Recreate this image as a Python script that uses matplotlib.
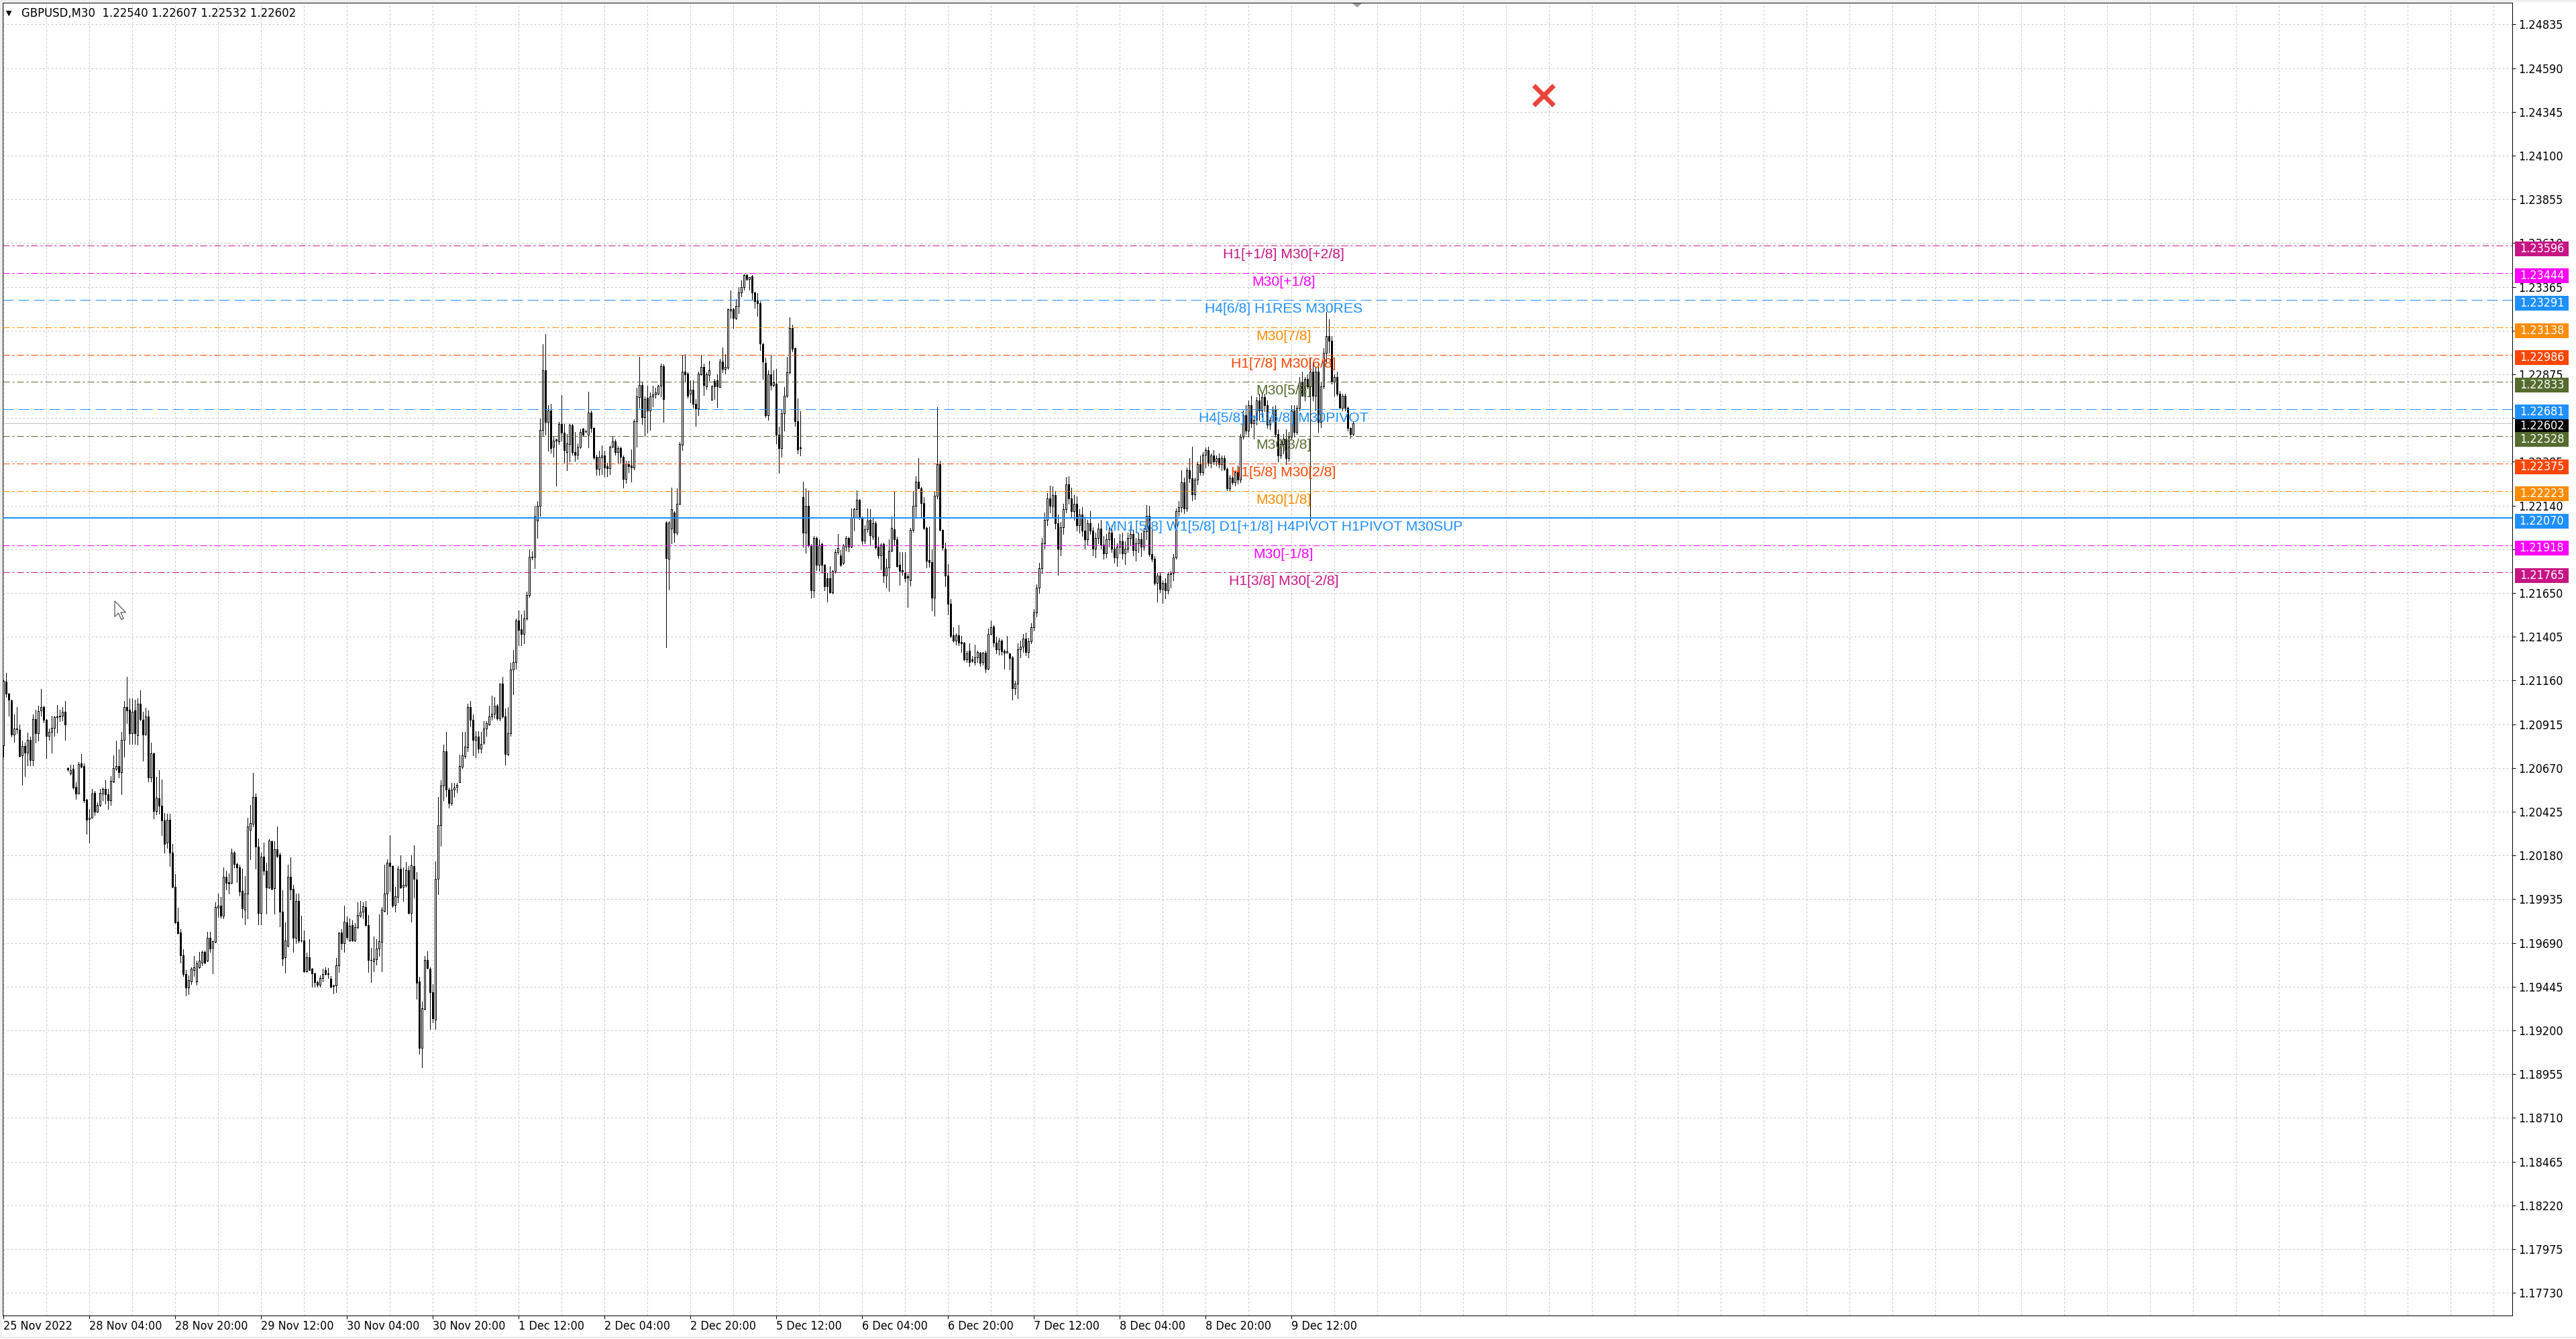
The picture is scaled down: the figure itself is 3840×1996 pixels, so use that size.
import matplotlib
matplotlib.use("Agg")
import matplotlib.pyplot as plt
from matplotlib import font_manager
from matplotlib.font_manager import FontProperties
from matplotlib.patches import Rectangle, Polygon
from matplotlib.transforms import blended_transform_factory
import numpy as np

plt.rcParams['lines.scale_dashes'] = False

# ---------------------------------------------------------------- data
# GBPUSD M30 candles, prices in points (1 point = 0.00001)
OPEN = [
    120798,121154,121088,121048,120858,120888,120884,120741,120795,120757,
    120827,120713,120945,120866,120994,121013,120941,120850,120871,120896,
    120956,120958,120964,120984,120669,120638,120664,120566,120528,120697,
    120679,120491,120383,120393,120532,120425,120463,120528,120551,120523,
    120488,120594,120667,120679,120648,120826,121013,120997,120866,120994,
    120855,121030,120941,120860,120958,120615,120752,120430,120501,120458,
    120376,120251,120381,120197,120006,119810,119749,119622,119516,119442,
    119475,119540,119475,119553,119581,119638,119589,119720,119663,119696,
    119887,119900,119843,120060,120030,120027,120197,120132,120112,119981,
    119875,119965,120324,120357,120507,120230,119859,120174,120096,120001,
    120259,119998,120215,120185,119867,119609,119674,120060,119994,119720,
    119924,119704,119704,119532,119609,119544,119521,119472,119455,119495,
    119540,119521,119491,119449,119451,119565,119749,119687,119805,119704,
    119789,119704,119777,119843,119864,119892,119789,119593,119586,119598,
    119658,119696,119870,119968,120141,120120,119903,119949,120104,120004,
    120011,120099,119859,120120,120047,119475,119103,119320,119593,119544,
    119413,119262,120050,120349,120572,120762,120550,120474,120550,120566,
    120592,120675,120736,120785,121013,120941,120827,120847,120778,120811,
    120892,120915,120958,120974,121018,120948,121144,120958,120749,120866,
    121222,121263,121497,121449,121421,121508,121637,121848,121852,122057,
    122139,122564,122898,122607,122671,122471,122510,122499,122596,122548,
    122441,122484,122591,122441,122423,122471,122570,122557,122536,122660,
    122574,122413,122344,122408,122419,122359,122348,122471,122499,122441,
    122462,122413,122290,122370,122363,122354,122613,122747,122816,122635,
    122742,122671,122751,122764,122768,122811,122919,122046,121842,122010,
    122100,121990,122150,122480,122891,122880,122765,122787,122711,122684,
    122875,122916,122809,122872,122733,122839,122842,122803,122945,122907,
    122912,123234,123239,123190,123260,123332,123365,123430,123410,123423,
    123332,123288,123275,123043,122940,122646,122875,122814,122823,122537,
    122460,122659,122754,122885,123136,123022,122614,122460,122189,121990,
    122140,121916,121666,121957,121807,121924,121807,121732,121732,121655,
    121774,121879,121862,121818,121911,121957,121908,122071,122120,122173,
    122071,121944,122006,122058,121965,122042,121911,121862,121924,121748,
    121794,121888,122009,121949,121807,121777,121761,121745,121720,122003,
    122137,122275,122235,122153,122014,121835,121823,121622,122194,122373,
    122003,121900,121748,121590,121415,121385,121415,121377,121372,121279,
    121328,121279,121263,121291,121317,121263,121317,121225,121421,121464,
    121372,121336,121382,121328,121317,121312,121288,121116,121141,
    121336,121350,121395,121320,121380,121460,121540,121680,121790,121930,
    122060,122180,122140,122200,122040,121900,122020,122120,122260,122180,
    122110,122150,122030,122090,122000,121950,122040,122000,121900,121960,
    122010,121920,121870,121950,121990,121900,121850,121910,121940,121870,
    121900,121960,121980,121890,121930,121949,121909,121996,122083,121868,
    121842,121707,121748,121674,121707,121667,121754,121761,121848,122110,
    122130,122271,122123,122338,122291,122204,122285,122372,122325,122425,
    122452,122378,122419,122385,122405,122372,122405,122345,122238,122298,
    122271,122325,122285,122526,122647,122560,122701,122600,122620,122728,
    122674,122748,122701,122593,122620,122681,122540,122419,122486,122513,
    122405,122526,122674,122553,122687,122835,122754,122848,122808,122889,
    122754,122889,122607,122808,122996,123090,123063,122835,122862,122768,
    122687,122754,122687,122573,122540,
]
HIGH = [
    121160,121203,121092,121051,120969,121010,120915,120822,120814,120870,
    120847,120969,120997,121018,121111,121020,120945,120892,120964,120961,
    121023,120997,121010,121046,120672,120690,120690,120589,120703,120749,
    120695,120496,120439,120553,120540,120479,120553,120561,120602,120553,
    120626,120741,120822,120773,120871,121046,121182,121062,121059,121051,
    121062,121105,120986,121007,120994,120811,120757,120621,120659,120605,
    120417,120414,120414,120243,120076,119887,119769,119655,119540,119508,
    119552,119617,119589,119638,119646,119646,119753,119753,119704,119916,
    119965,119949,120112,120096,120079,120218,120202,120141,120128,120104,
    120063,120390,120463,120643,120528,120275,120197,120251,120141,120272,
    120264,120259,120344,120197,119985,119805,120128,120169,120017,119965,
    119965,119843,119761,119635,119712,119548,119524,119478,119508,119544,
    119553,119548,119504,119455,119606,119753,119769,119900,119838,119826,
    119818,119802,119916,119924,119916,119924,119847,119663,119728,119712,
    119851,119892,120128,120158,120292,120123,120006,120120,120181,120112,
    120145,120120,120181,120239,120088,119500,119361,119619,119642,119553,
    119459,120148,120507,120602,120801,120871,120561,120585,120585,120585,
    120746,120871,120871,121030,121046,120969,120876,120876,120871,120932,
    120932,121018,121075,121067,121026,121144,121182,121002,121010,121258,
    121329,121508,121551,121529,121551,121658,121895,121885,122139,122165,
    122628,123044,123102,122704,122708,122531,122514,122607,122757,122596,
    122542,122596,122596,122553,122488,122570,122574,122564,122779,122671,
    122579,122423,122445,122477,122445,122380,122477,122531,122510,122473,
    122471,122419,122391,122391,122456,122622,122801,122973,122833,122751,
    122811,122773,122811,122801,122816,122934,122930,122053,122053,122240,
    122110,122235,122496,122986,122989,122888,122842,122842,122738,122891,
    122983,122937,122888,122950,122814,122847,122875,122961,123027,122989,
    123244,123345,123247,123296,123365,123402,123435,123435,123419,123430,
    123337,123329,123283,123051,122969,122896,122986,122896,122904,122581,
    122676,122803,122973,123195,123152,123027,122741,122667,122275,122235,
    122226,121924,121970,121965,121949,121932,121813,121764,121802,121777,
    121895,121982,121892,121924,121970,121965,122124,122128,122226,122177,
    122080,122031,122124,122120,122075,122052,121965,121928,121932,121843,
    121949,122080,122218,121965,121879,121879,121879,121758,122014,122222,
    122303,122406,122243,122189,122022,122022,121895,122218,122692,122390,
    122009,121932,121810,121617,121459,121426,121470,121410,121377,121328,
    121369,121296,121361,121328,121320,121320,121328,121451,121496,121470,
    121405,121398,121389,121333,121410,121312,121296,121157,121369,
    121383,121420,121430,121400,121480,121560,121700,121820,121960,122100,
    122210,122250,122248,122220,122090,122050,122150,122300,122303,122240,
    122200,122190,122120,122130,122080,122060,122110,122020,121990,122040,
    122060,121970,121980,122020,122030,121960,121930,121980,121990,121940,
    121990,122030,122000,121960,121990,121989,122016,122144,122137,122016,
    121855,121761,121761,121721,121734,121761,121774,121868,122123,122164,
    122338,122298,122352,122405,122470,122298,122385,122419,122439,122466,
    122470,122432,122452,122419,122432,122419,122419,122352,122311,122352,
    122338,122365,122540,122674,122701,122728,122754,122647,122748,122768,
    122761,122768,122728,122633,122694,122701,122566,122513,122540,122566,
    122553,122701,122701,122701,122862,122889,122862,122875,122969,122942,
    122915,122942,122835,123023,123224,123184,123090,122875,122889,122781,
    122768,122768,122694,122580,122607,
]
LOW = [
    120732,121067,120961,120847,120817,120863,120732,120577,120626,120684,
    120684,120684,120814,120822,120964,120925,120724,120827,120757,120850,
    120870,120932,120937,120827,120654,120631,120553,120496,120525,120672,
    120479,120300,120251,120390,120406,120422,120455,120488,120471,120439,
    120463,120589,120659,120615,120523,120732,120920,120806,120806,120806,
    120801,120937,120711,120855,120594,120594,120386,120409,120414,120295,
    120197,120223,120120,120001,119802,119740,119581,119504,119397,119402,
    119459,119504,119455,119548,119565,119576,119586,119638,119521,119691,
    119834,119831,119826,119990,119968,120022,120112,120030,119957,119831,
    119794,119826,120158,120341,120104,119794,119794,120071,119854,119998,
    119990,119854,120169,119782,119565,119524,119671,119932,119638,119687,
    119691,119696,119527,119527,119537,119446,119446,119446,119446,119475,
    119511,119495,119442,119406,119413,119527,119655,119638,119712,119700,
    119700,119700,119772,119834,119826,119785,119527,119472,119532,119570,
    119619,119532,119867,119851,119981,119892,119864,119919,119998,119924,
    120006,119854,119810,119945,119377,119067,118993,119315,119544,119206,
    119246,119206,119962,120234,120488,120512,120447,120463,120507,120533,
    120589,120670,120724,120765,120904,120741,120729,120757,120757,120806,
    120850,120909,120941,120953,120941,120937,120953,120687,120741,120850,
    121084,121227,121357,121357,121367,121501,121626,121837,121788,121960,
    122083,122531,122536,122445,122434,122413,122251,122484,122505,122380,
    122337,122385,122423,122391,122402,122462,122531,122548,122467,122553,
    122402,122311,122311,122316,122305,122305,122316,122467,122423,122380,
    122380,122240,122268,122326,122273,122342,122471,122686,122596,122531,
    122548,122564,122693,122742,122764,122751,122607,121346,121669,121930,
    121935,121976,122145,122450,122836,122744,122716,122689,122586,122646,
    122872,122757,122793,122842,122733,122738,122692,122803,122885,122880,
    122904,123190,123136,123185,123218,123312,123348,123402,123348,123293,
    123247,123201,123010,122847,122635,122618,122787,122809,122488,122324,
    122414,122558,122749,122880,123002,122586,122431,122422,121908,121875,
    121908,121622,121627,121777,121774,121761,121666,121601,121650,121647,
    121764,121867,121802,121810,121888,121883,121905,121998,122071,122063,
    121924,121928,121993,121916,121949,121900,121846,121781,121709,121679,
    121663,121883,121916,121797,121696,121753,121715,121573,121692,121993,
    122080,122235,122080,122006,121794,121797,121552,121524,122180,121998,
    121892,121688,121529,121402,121377,121361,121356,121320,121271,121263,
    121239,121263,121247,121263,121239,121247,121206,121222,121418,121349,
    121312,121304,121304,121225,121317,121222,121051,121083,121059,
    121290,121320,121300,121290,121370,121440,121520,121650,121760,121900,
    122030,122100,122080,122010,121750,121860,121980,122100,122150,122080,
    122060,122000,121990,121970,121900,121920,121980,121860,121850,121930,
    121900,121840,121850,121910,121880,121820,121800,121870,121840,121810,
    121880,121920,121860,121830,121880,121855,121889,121949,121855,121828,
    121694,121600,121654,121593,121620,121647,121680,121721,121842,122083,
    122103,122097,122110,122271,122170,122177,122258,122311,122311,122352,
    122365,122352,122372,122365,122352,122338,122338,122224,122224,122258,
    122251,122264,122271,122513,122540,122526,122580,122513,122593,122620,
    122633,122667,122573,122566,122607,122526,122385,122405,122432,122372,
    122392,122513,122526,122540,122674,122781,122728,122795,122056,122728,
    122674,122553,122580,122795,122942,122996,122821,122754,122754,122687,
    122674,122674,122560,122519,122532,
]
CLOSE = [
    121157,121088,121051,120858,120892,120891,120737,120795,120757,120827,
    120713,120945,120866,120990,121010,120941,120850,120871,120896,120956,
    120958,120964,120984,120915,120662,120657,120561,120528,120692,120675,
    120488,120381,120393,120528,120425,120463,120532,120551,120523,120488,
    120597,120670,120679,120648,120826,121013,120994,120866,120986,120866,
    121030,120945,120858,120958,120615,120752,120430,120504,120458,120376,
    120246,120381,120197,120006,119805,119745,119622,119516,119442,119483,
    119544,119552,119576,119589,119638,119581,119720,119658,119700,119892,
    119900,119843,120060,120027,120022,120197,120132,120112,119978,119883,
    119965,120341,120363,120507,120230,119859,120174,120096,120001,120262,
    119994,120215,120177,119867,119602,119704,120060,119990,119720,119924,
    119704,119704,119532,119609,119540,119521,119472,119455,119495,119516,
    119516,119514,119446,119451,119565,119745,119687,119810,119723,119785,
    119704,119777,119847,119864,119896,119789,119593,119593,119602,119658,
    119700,119875,119968,120141,120120,119900,119952,120104,120001,120014,
    120099,119859,120125,120050,119467,119103,119325,119593,119548,119413,
    119266,120050,120349,120572,120762,120550,120474,120550,120561,120577,
    120680,120741,120790,121010,120941,120827,120847,120778,120806,120892,
    120920,120958,120972,121018,120948,121141,120958,120749,120866,121222,
    121263,121497,121443,121421,121508,121637,121852,121852,122079,122139,
    122564,122898,122607,122671,122462,122505,122505,122596,122548,122449,
    122488,122591,122441,122423,122471,122553,122536,122557,122660,122574,
    122408,122344,122413,122419,122354,122348,122471,122499,122441,122462,
    122413,122290,122376,122359,122354,122613,122751,122816,122635,122736,
    122671,122751,122764,122773,122811,122919,122736,121846,122046,122120,
    121990,122150,122483,122891,122875,122754,122787,122711,122684,122880,
    122916,122814,122875,122896,122809,122806,122806,122945,122904,122916,
    123239,123239,123190,123260,123332,123365,123430,123410,123419,123332,
    123283,123275,123048,122945,122646,122875,122814,122831,122537,122460,
    122659,122754,122885,123136,123018,122614,122455,122467,121990,122140,
    121916,121666,121957,121807,121916,121807,121688,121688,121655,121774,
    121879,121903,121807,121916,121957,121908,122075,122120,122173,122071,
    121944,122006,122055,121973,122042,121905,121862,121921,121748,121794,
    121888,122014,121949,121802,121774,121769,121732,121737,122003,122140,
    122275,122235,122153,122014,121830,121823,121622,122194,122373,122003,
    121905,121748,121590,121410,121385,121415,121372,121369,121279,121312,
    121263,121271,121291,121320,121258,121317,121225,121421,121459,121372,
    121336,121382,121323,121317,121323,121284,121116,121141,121336,
    121350,121395,121320,121380,121460,121540,121680,121790,121930,122060,
    122180,122140,122200,122040,121900,122020,122120,122260,122180,122110,
    122150,122030,122090,122000,121950,122040,122000,121900,121960,122010,
    121920,121870,121950,121990,121900,121850,121910,121940,121870,121900,
    121960,121980,121890,121930,121950,121909,121996,122083,121868,121842,
    121707,121748,121674,121707,121667,121754,121761,121848,122110,122130,
    122271,122123,122338,122291,122204,122285,122372,122325,122425,122452,
    122378,122419,122385,122405,122372,122405,122345,122238,122298,122271,
    122325,122285,122526,122647,122560,122701,122600,122620,122728,122674,
    122748,122701,122593,122620,122681,122540,122419,122486,122513,122405,
    122526,122674,122553,122687,122835,122754,122848,122808,122889,122754,
    122889,122607,122808,122996,123090,123063,122835,122862,122768,122687,
    122754,122687,122573,122540,122602,
]
POINT = 1e-5

PRICE_TICKS = [1.17730, 1.17975, 1.18220, 1.18465, 1.18710, 1.18955, 1.19200,
               1.19445, 1.19690, 1.19935, 1.20180, 1.20425, 1.20670, 1.20915,
               1.21160, 1.21405, 1.21650, 1.21895, 1.22140, 1.22385, 1.22630,
               1.22875, 1.23120, 1.23365, 1.23610, 1.23855, 1.24100, 1.24345,
               1.24590, 1.24835]

TIME_LABELS = ['25 Nov 2022', '28 Nov 04:00', '28 Nov 20:00', '29 Nov 12:00',
               '30 Nov 04:00', '30 Nov 20:00', '1 Dec 12:00', '2 Dec 04:00',
               '2 Dec 20:00', '5 Dec 12:00', '6 Dec 04:00', '6 Dec 20:00',
               '7 Dec 12:00', '8 Dec 04:00', '8 Dec 20:00', '9 Dec 12:00']
BARS_PER_LABEL = 32
BARS_PER_GRID = 16

LEVEL_PRICES = [1.23596, 1.23444, 1.23291, 1.23138, 1.22986, 1.22833, 1.22681,
                1.22528, 1.22375, 1.22223, 1.22070, 1.21918, 1.21765]
LEVEL_TEXTS = ['H1[+1/8] M30[+2/8]', 'M30[+1/8]', 'H4[6/8] H1RES M30RES',
               'M30[7/8]', 'H1[7/8] M30[6/8]', 'M30[5/8]',
               'H4[5/8] H1[6/8] M30PIVOT', 'M30[3/8]', 'H1[5/8] M30[2/8]',
               'M30[1/8]', 'MN1[5/8] W1[5/8] D1[+1/8] H4PIVOT H1PIVOT M30SUP',
               'M30[-1/8]', 'H1[3/8] M30[-2/8]']
LEVEL_COLORS = ['#C71585', '#FF00FF', '#1E90FF', '#FF8C00', '#FF4500',
                '#556B2F', '#1E90FF', '#556B2F', '#FF4500', '#FF8C00',
                '#1E90FF', '#FF00FF', '#C71585']
LEVEL_STYLES = ['dashdot', 'dashdot', 'dash', 'dashdot', 'dashdot', 'dashdot',
                'dash', 'dashdot', 'dashdot', 'dashdot', 'solid', 'dashdot',
                'dashdot']
LABEL_BAR = 477

LAST_PRICE = 1.22602
HEADER = 'GBPUSD,M30  1.22540 1.22607 1.22532 1.22602'

MARK_BAR = 574
MARK_PRICE = 1.24440

# ---------------------------------------------------------------- layout
W, H, DPI = 3840, 1996, 100
PX = 72.0 / DPI                      # one pixel in points
L_PX, R_PX, T_PX, B_PX = 4, 3745, 4, 1961
Y_MIN, Y_MAX = 1.17603, 1.24957
X_MIN, X_MAX = -0.325, 934.9


def axis_font(size):
    fp = FontProperties(family='DejaVu Sans', stretch='condensed', size=size)
    try:
        path = font_manager.findfont(fp, fallback_to_default=False)
        if 'ondensed' in path:
            return fp
    except Exception:
        pass
    return FontProperties(family='Liberation Sans', size=size + 0.5)


TICK_FONT = axis_font(12.9)
HEAD_FONT = axis_font(13.2)
LEVEL_FONT = FontProperties(family='Liberation Sans', size=15.2)

fig = plt.figure(figsize=(W / DPI, H / DPI), dpi=DPI)
fig.patch.set_facecolor('white')
ax = fig.add_axes([L_PX / W, 1 - B_PX / H, (R_PX - L_PX) / W, (B_PX - T_PX) / H])
ax.set_facecolor('white')
ax.set_xlim(X_MIN, X_MAX)
ax.set_ylim(Y_MIN, Y_MAX)
price_per_px = (Y_MAX - Y_MIN) / (B_PX - T_PX)

# grid
GRID = '#C8C8C8'
grid_dash = (0, (3 * PX, 3 * PX))
for p in PRICE_TICKS:
    ax.axhline(p, color=GRID, lw=PX, linestyle=grid_dash, zorder=1)
for i in range(0, int(X_MAX) + 1, BARS_PER_GRID):
    ax.axvline(i, color=GRID, lw=PX, linestyle=grid_dash, zorder=1)

# last price line
ax.axhline(LAST_PRICE, color='#C0C0C0', lw=PX, zorder=2)

# candles
n = min(len(OPEN), len(HIGH), len(LOW), len(CLOSE))
o = np.array(OPEN[:n]) * POINT
h = np.array(HIGH[:n]) * POINT
l = np.array(LOW[:n]) * POINT
c = np.array(CLOSE[:n]) * POINT
x = np.arange(n)
top = np.maximum(o, c)
bot = np.minimum(o, c)
ax.vlines(x, np.minimum(l, bot), np.maximum(h, top), colors='black', lw=PX,
          zorder=3, antialiased=False)
ax.bar(x, top - bot, bottom=bot, width=0.5,
       color=np.where(c >= o, 'white', 'black'), edgecolor='black',
       linewidth=PX, zorder=3.5, antialiased=False)

# level lines and their captions
styles = {'dash': (0, (16 * PX, 7 * PX)),
          'dashdot': (0, (10 * PX, 4 * PX, 3 * PX, 4 * PX)),
          'solid': '-'}
for p, t, col, st in zip(LEVEL_PRICES, LEVEL_TEXTS, LEVEL_COLORS, LEVEL_STYLES):
    ax.axhline(p, color=col, lw=2 * PX if st == 'solid' else PX,
               linestyle=styles[st], zorder=4)
    ax.annotate(t, xy=(LABEL_BAR, p), xytext=(0, -4 * PX),
                textcoords='offset points', ha='center', va='top', color=col,
                fontproperties=LEVEL_FONT, zorder=6)

# red cross object
ax.plot([MARK_BAR], [MARK_PRICE], marker='x', ms=22, mew=5, color='#E8463C',
        zorder=6)

# price scale
ax.yaxis.tick_right()
ax.set_yticks(PRICE_TICKS)
ax.set_yticklabels([f'{p:.5f}' for p in PRICE_TICKS])
ax.tick_params(axis='y', direction='out', length=5 * PX, width=PX, pad=4 * PX,
               colors='black')
for lab in ax.get_yticklabels():
    lab.set_fontproperties(TICK_FONT)

# time scale
ax.set_xticks([k * BARS_PER_LABEL for k in range(len(TIME_LABELS))])
ax.set_xticklabels(TIME_LABELS)
ax.tick_params(axis='x', direction='out', length=5 * PX, width=PX, pad=2 * PX,
               colors='black')
for lab in ax.get_xticklabels():
    lab.set_fontproperties(TICK_FONT)
    lab.set_ha('left')

for sp in ax.spines.values():
    sp.set_color('black')
    sp.set_linewidth(PX)

# price tags on the scale
tag_tr = blended_transform_factory(ax.transAxes, ax.transData)
ax_w = R_PX - L_PX
tag_x0 = (3749 - L_PX) / ax_w
tag_w = 80 / ax_w
tag_h = 22 * price_per_px
tag_shift = 4.5 * price_per_px
tags = [(LAST_PRICE, 'black')] + list(zip(LEVEL_PRICES, LEVEL_COLORS))
for k, (p, col) in enumerate(tags):
    yc = p - tag_shift
    ax.add_patch(Rectangle((tag_x0, yc - tag_h / 2), tag_w, tag_h,
                           transform=tag_tr, facecolor=col, edgecolor='none',
                           clip_on=False, zorder=7 + 2 * k))
    ax.text(tag_x0 + tag_w / 2, yc, f'{p:.5f}', transform=tag_tr, color='white',
            ha='center', va='center', fontproperties=TICK_FONT, clip_on=False,
            zorder=8 + 2 * k)

# screen overlay in pixel units
ov = fig.add_axes([0, 0, 1, 1])
ov.set_xlim(0, W)
ov.set_ylim(H, 0)
ov.axis('off')
ov.patch.set_alpha(0)

ov.text(9, 20, '\u25BC', fontsize=8, family=['DejaVu Sans'], va='center',
        ha='left', color='black')
ov.text(32, 20, HEADER, fontproperties=HEAD_FONT, va='center', ha='left',
        color='black')

# chart shift marker
ov.add_patch(Polygon([(2016, 5), (2030, 5), (2023, 11)], closed=True,
                     facecolor='#A0A0A0', edgecolor='none'))

# mouse pointer
cx, cy, s = 171, 896, 30
arrow = [(0, 0), (0, 0.78), (0.19, 0.6), (0.33, 0.92), (0.44, 0.87),
         (0.3, 0.56), (0.55, 0.56)]
ov.add_patch(Polygon([(cx + a * s, cy + b * s) for a, b in arrow], closed=True,
                     facecolor='white', edgecolor='#505050', lw=1.2 * PX))

# outer frame of the window
ov.add_patch(Rectangle((0.5, 0.5), W - 1, 1992, fill=False, edgecolor='#D4D4D4',
                       lw=PX))

fig.savefig('out.png', dpi=DPI, facecolor='white')
